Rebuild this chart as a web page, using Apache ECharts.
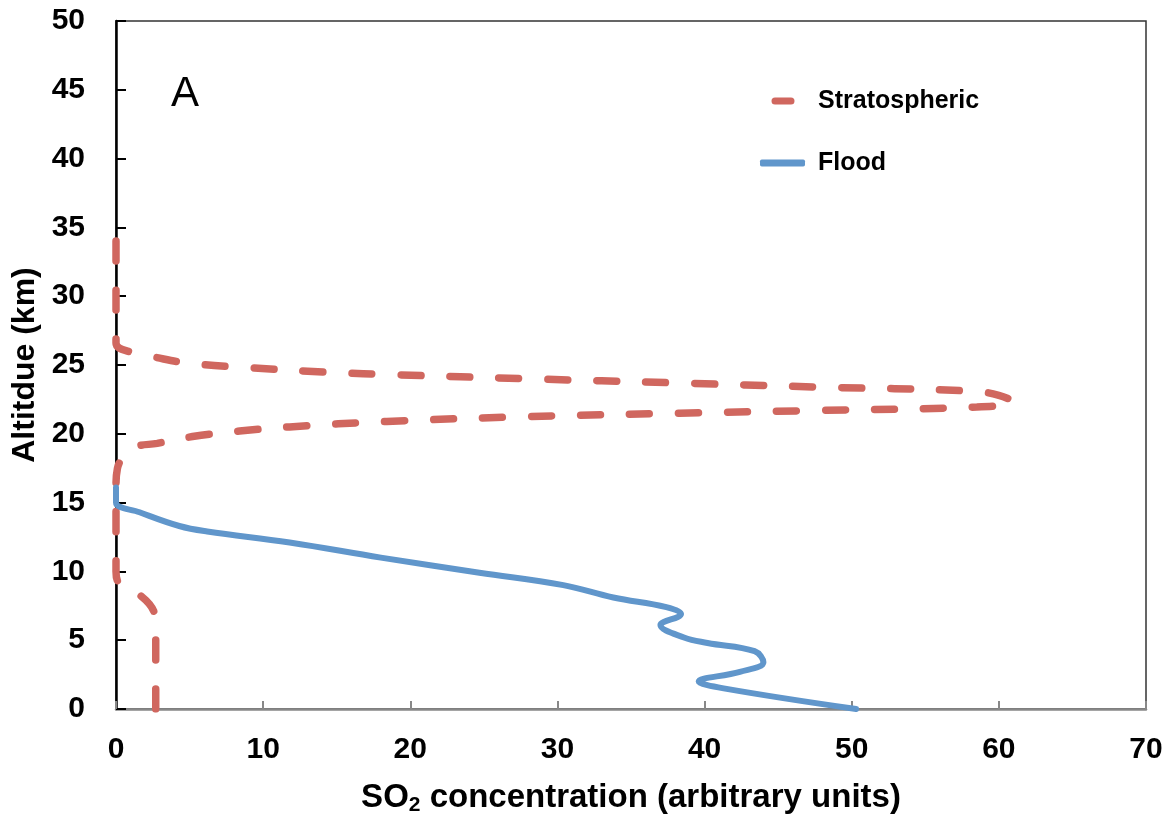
<!DOCTYPE html>
<html>
<head>
<meta charset="utf-8">
<script src="https://cdn.jsdelivr.net/npm/echarts@6/dist/echarts.min.js"></script>
<style>
html,body{margin:0;padding:0;background:#fff;}
#chart{width:1175px;height:823px;}
</style>
</head>
<body>
<div id="chart"></div>
<script>
// Series names
const seriesNames = ['Stratospheric', 'Flood'];
// Stratospheric profile: [concentration, altitude km]
const stratospheric = [
  [2.7,0],[2.7,2],[2.7,4],[2.7,6],[2.6,7],[1.6,8.3],[0.3,9],[0,10],[0,12],[0,14],[0,16],
  [0.1,17.5],[1.3,19],[2.8,19.3],[5.2,19.8],[8.4,20.2],[11.8,20.5],[18.4,20.9],[28,21.25],
  [38.3,21.5],[47.8,21.7],[58.5,21.95],[61.0,22.3],[60.0,22.8],[58.2,23.1],[47.6,23.4],
  [38,23.7],[28,24.0],[18.8,24.3],[14.8,24.45],[9.1,24.8],[4.8,25.15],[2.5,25.6],[0.95,25.95],
  [0,26.6],[0,30],[0,35]
];
// Flood profile: [concentration, altitude km]
const flood = [
  [0,16.1],[0,15],[1.6,14.3],[4.3,13.3],[6.2,12.9],[11.8,12.1],[18,11],[24.7,9.9],[30.4,9.0],
  [33.8,8.1],[37.4,7.4],[38.4,6.9],[37.0,6.1],[38.6,5.2],[40.2,4.8],[43.4,4.2],[44.0,3.4],
  [42.4,2.7],[39.6,2.0],[41.3,1.5],[50.3,0]
];
// Axis settings
const xTicks = {min:0, max:70, interval:10};
const yTicks = {min:0, max:50, interval:5};
const panelLabel = 'A';

const font = "'Liberation Sans', Arial, sans-serif";
const redColor = '#d0675f';
const blueColor = '#6096cb';
const chart = echarts.init(document.getElementById('chart'));
chart.setOption({
  animation:false,
  backgroundColor:'#fff',
  title:{text:panelLabel, left:166, top:68, textStyle:{fontFamily:font, fontWeight:'normal', fontSize:42, color:'#000'}},
  legend:{
    orient:'vertical', left:755, top:82, itemWidth:45, itemHeight:7, itemGap:34,
    data:[
      {name:seriesNames[0], icon:'path://M0,0 L0.01,0 Z M15,0 L31,0 A3.5,3.5 0 0 1 31,7 L15,7 A3.5,3.5 0 0 1 15,0 Z M45,7 L44.99,7 Z', itemStyle:{color:redColor}},
      {name:seriesNames[1], icon:'roundRect', itemStyle:{color:blueColor}}
    ],
    textStyle:{fontFamily:font, fontWeight:'bold', fontSize:25, color:'#000', lineHeight:28, padding:[0,0,0,8]}
  },
  grid:{left:116, right:29, top:21, bottom:114, show:true, borderColor:'#333', borderWidth:1.5},
  xAxis:{
    type:'value', min:xTicks.min, max:xTicks.max, interval:xTicks.interval,
    axisLine:{show:true, onZero:false, lineStyle:{color:'#888', width:2.5}},
    axisTick:{show:true, inside:true, length:8, lineStyle:{color:'#888', width:2}},
    splitLine:{show:false},
    axisLabel:{margin:26, fontFamily:font, fontWeight:'bold', fontSize:30, color:'#000'},
    name:'{a|SO}{s|2}{a| concentration (arbitrary units)}', nameLocation:'middle', nameGap:70,
    nameTextStyle:{rich:{
      a:{fontFamily:font, fontWeight:'bold', fontSize:33, color:'#000'},
      s:{fontFamily:font, fontWeight:'bold', fontSize:21, color:'#000', verticalAlign:'bottom', padding:[16,0,0,0]}
    }}
  },
  yAxis:{
    type:'value', min:yTicks.min, max:yTicks.max, interval:yTicks.interval,
    axisLine:{show:true, onZero:false, lineStyle:{color:'#000', width:2.5}},
    axisTick:{show:true, inside:true, length:10, lineStyle:{color:'#000', width:2}},
    splitLine:{show:false},
    axisLabel:{margin:31, fontFamily:font, fontWeight:'bold', fontSize:30, color:'#000'},
    name:'Altitdue (km)', nameLocation:'middle', nameGap:66,
    nameTextStyle:{fontFamily:font, fontWeight:'bold', fontSize:32, color:'#000'}
  },
  series:[
    {name:seriesNames[0], type:'line', data:stratospheric, smooth:0.4, showSymbol:false, symbol:'none',
     itemStyle:{color:redColor},
     lineStyle:{color:redColor, width:7.5, type:[20,29], cap:'round'}, z:2},
    {name:seriesNames[1], type:'line', data:flood, smooth:0.4, showSymbol:false, symbol:'none',
     itemStyle:{color:blueColor},
     lineStyle:{color:blueColor, width:6, cap:'round', join:'round'}, z:3}
  ]
});
</script>
</body>
</html>
